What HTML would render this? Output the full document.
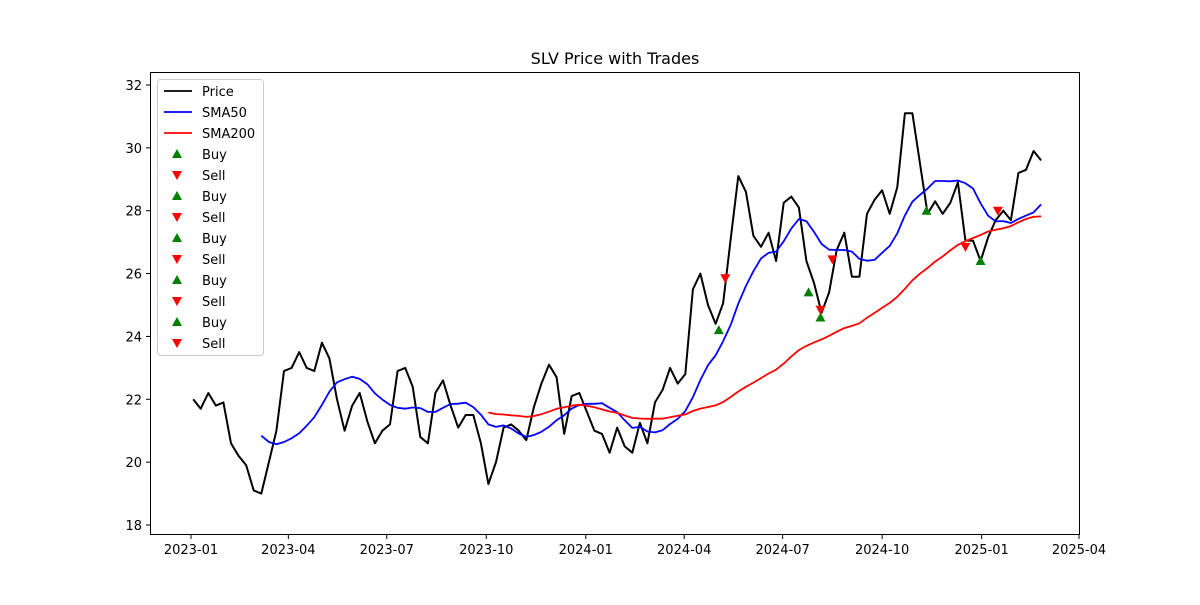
<!DOCTYPE html>
<html><head><meta charset="utf-8"><style>
body{margin:0;background:#fff;}
svg text{font-family:"DejaVu Sans","Liberation Sans",sans-serif;}
</style></head><body>
<svg id="chart" width="1200" height="600" xmlns="http://www.w3.org/2000/svg">
<rect width="1200" height="600" fill="#fff"/>
<text x="615" y="64" text-anchor="middle" font-size="16">SLV Price with Trades</text>
<g id="plot"></g>
<rect x="150.5" y="72.5" width="929" height="462" fill="none" stroke="#000" stroke-width="1"/>
<g id="legend"></g>
</svg>
<script>
const startDate = "2023-01-03";
const prices = [22.0,21.7,22.2,21.8,21.9,20.6,20.2,19.9,19.1,19.0,20.0,21.0,22.9,23.0,23.5,23.0,22.9,23.8,23.3,22.0,21.0,21.8,22.2,21.3,20.6,21.0,21.2,22.9,23.0,22.4,20.8,20.6,22.2,22.6,21.8,21.1,21.5,21.5,20.6,19.3,20.0,21.1,21.2,21.0,20.7,21.75,22.5,23.1,22.7,20.9,22.1,22.2,21.6,21.0,20.9,20.3,21.1,20.5,20.3,21.25,20.6,21.9,22.3,23.0,22.5,22.8,25.5,26.0,25.0,24.4,25.05,27.1,29.1,28.6,27.2,26.85,27.3,26.4,28.25,28.45,28.1,26.4,25.7,24.75,25.4,26.75,27.3,25.9,25.9,27.9,28.35,28.65,27.9,28.75,31.1,31.1,29.5,27.9,28.3,27.9,28.25,28.9,27.05,27.05,26.4,27.15,27.7,28.0,27.7,29.2,29.3,29.9,29.6];
const buyDates = ["2024-05-03","2024-07-25","2024-08-05","2024-11-11","2024-12-31"];
const buyPrices = [24.2,25.4,24.6,28.0,26.4];
const sellDates = ["2024-05-09","2024-08-05","2024-08-16","2024-12-17","2025-01-16"];
const sellPrices = [25.85,24.85,26.45,26.85,28.0];
const yTicks = [18,20,22,24,26,28,30,32];
const xTicks = ["2023-01","2023-04","2023-07","2023-10","2024-01","2024-04","2024-07","2024-10","2025-01","2025-04"];

const NS="http://www.w3.org/2000/svg";
const day=86400000;
const t0=Date.UTC(2023,0,1);
function parse(s){const p=s.split("-").map(Number);return Date.UTC(p[0],p[1]-1,p[2]||1);}
function xs(ms){return 191+(ms-t0)/day*1.0816;}
function ys(v){return 525-(v-18)*31.43;}
const plot=document.getElementById("plot");
function mk(tag,attrs,parent){const e=document.createElementNS(NS,tag);for(const k in attrs)e.setAttribute(k,attrs[k]);(parent||plot).appendChild(e);return e;}
const s0=parse(startDate);
const dts=prices.map((_,i)=>s0+i*7*day);
function sma(w){const out=[];for(let i=w-1;i<prices.length;i++){let s=0;for(let j=i-w+1;j<=i;j++)s+=prices[j];out.push([dts[i],s/w]);}return out;}
yTicks.forEach(v=>{
  const t=mk("line",{x1:146,x2:150,y1:ys(v),y2:ys(v),stroke:"#000"});
  
  
  const l=mk("text",{x:142,y:ys(v)+5,"text-anchor":"end","font-size":13});
  l.textContent=v;
  
  
});
xTicks.forEach(s=>{
  const x=xs(parse(s));
  const t=mk("line",{x1:x,x2:x,y1:535,y2:539,stroke:"#000"});
  
  
  const l=mk("text",{x:x,y:554,"text-anchor":"middle","font-size":13});
  l.textContent=s;
  
  
});
function line(pts,color,name,w){
  const p=mk("polyline",{points:pts.map(q=>xs(q[0]).toFixed(1)+","+ys(q[1]).toFixed(1)).join(" "),fill:"none",stroke:color,"stroke-width":w,"stroke-linejoin":"round"});
  
  
}
line(prices.map((v,i)=>[dts[i],v]),"#000","price-line",2);
line(sma(10),"#0000ff","sma50-line",1.8);
line(sma(40),"#ff0000","sma200-line",1.8);
function tri(x,y,up,color){
  const pts=up?[[x,y-5],[x-5,y+4],[x+5,y+4]]:[[x,y+5],[x-5,y-4],[x+5,y-4]];
  return mk("polygon",{points:pts.map(p=>p.join(",")).join(" "),fill:color});
}
buyDates.forEach((d,i)=>{const m=tri(xs(parse(d)),ys(buyPrices[i]),true,"#008000");
  
  });
sellDates.forEach((d,i)=>{const m=tri(xs(parse(d)),ys(sellPrices[i]),false,"#ff0000");
  
  });
const lg=document.getElementById("legend");
mk("rect",{x:157.5,y:79.5,width:106,height:276,rx:3,fill:"#fff","fill-opacity":0.8,stroke:"#ccc"},lg);
const labels=["Price","SMA50","SMA200","Buy","Sell","Buy","Sell","Buy","Sell","Buy","Sell","Buy","Sell"];
labels.forEach((lab,i)=>{
  const y=91+i*21;
  if(i<3){
    const l=mk("line",{x1:164,x2:192,y1:y,y2:y,stroke:["#000","#0000ff","#ff0000"][i],"stroke-width":1.8},lg);
    
    
  }else{
    const up=lab==="Buy";
    const pts=up?[[177,y-5],[172,y+4],[182,y+4]]:[[177,y+5],[172,y-4],[182,y-4]];
    const m=mk("polygon",{points:pts.map(p=>p.join(",")).join(" "),fill:up?"#008000":"#ff0000"},lg);
    
    
  }
  const t=mk("text",{x:202,y:y+5,"font-size":13},lg);
  t.textContent=lab;
  
  
});
</script>
</body></html>
